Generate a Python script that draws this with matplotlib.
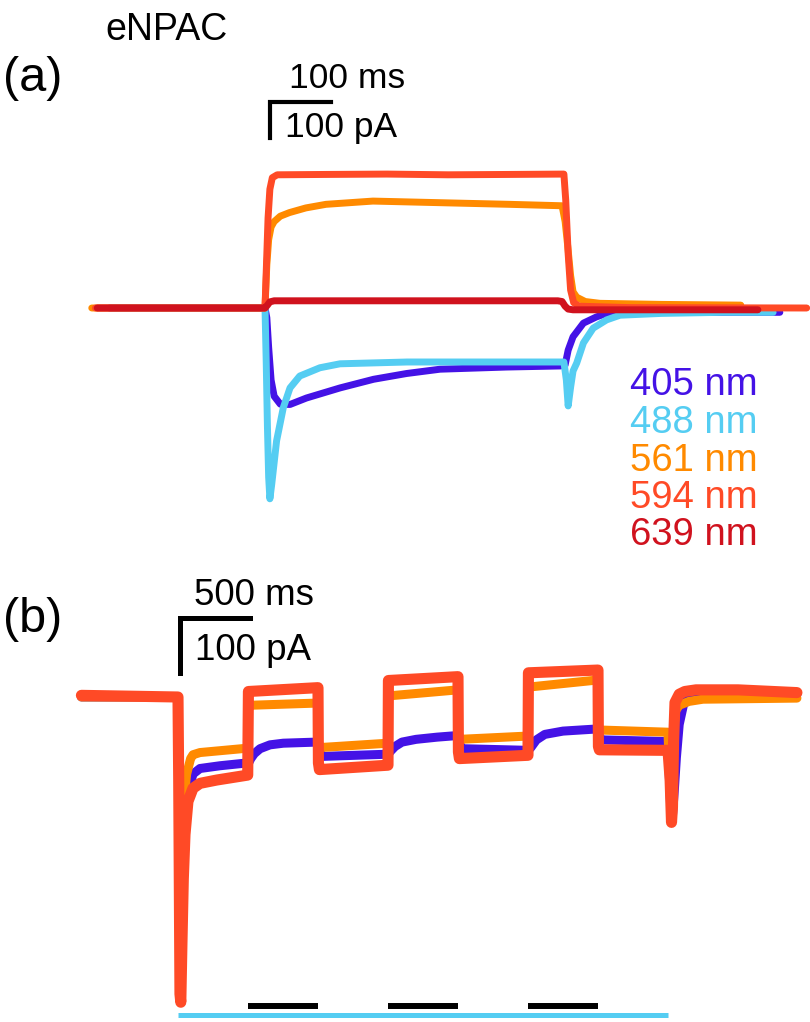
import matplotlib
matplotlib.use("Agg")
import matplotlib.pyplot as plt

plt.rcParams['font.family'] = ['Liberation Sans', 'DejaVu Sans']

# colours of the five wavelengths
wavelengths = ['405 nm', '488 nm', '561 nm', '594 nm', '639 nm']
colors = ['#4412E6', '#55CDF2', '#FF8A00', '#FF4A26', '#D0121E']

# ---- panel (a): 500 ms pulses, time in ms, current in pA ----
t_a_405 = [-255, 0, 3, 6, 10, 15, 25, 41, 68, 123, 178, 232, 287, 396, 484, 492, 497, 505, 522, 543, 560, 620, 844]
i_a_405 = [0, 0, -27, -110, -200, -245, -267, -268, -250, -222, -198, -182, -170, -164, -161, -158, -117, -80, -42, -25, -15, -12, -12]

t_a_488 = [-250, 0, 2, 4, 6, 8, 11, 19, 30, 41, 57, 90, 123, 233, 490, 494, 497, 501, 505, 511, 522, 538, 560, 582, 650, 750, 833]
i_a_488 = [0, 0, -150, -330, -470, -530, -490, -369, -277, -222, -189, -166, -155, -150, -150, -200, -272, -220, -175, -153, -97, -56, -33, -20, -15, -12, -12]

t_a_561 = [-284, 0, 3, 6, 10, 15, 25, 40, 67, 100, 177, 300, 400, 487, 492, 497, 501, 505, 511, 525, 549, 650, 780]
i_a_561 = [0, 0, 120, 190, 225, 240, 255, 265, 278, 288, 297, 292, 288, 284, 240, 160, 90, 45, 30, 18, 13, 10, 8]

t_a_594 = [-278, 0, 2, 5, 8, 12, 20, 100, 200, 300, 400, 490, 493, 497, 501, 506, 515, 600, 888]
i_a_594 = [0, 0, 100, 250, 330, 362, 370, 371, 372, 370, 371, 372, 300, 150, 50, 15, 5, 1, 0]

t_a_639 = [-275, 0, 4, 8, 15, 480, 487, 492, 497, 505, 808]
i_a_639 = [0, 0, 8, 17, 20, 20, 18, 5, -3, -5, -5]

# ---- panel (b): 488 nm background with 500 ms pulses ----
blue_light = [0, 3500]
pulses = [(500, 1000), (1500, 2000), (2500, 3000)]

t_b_405 = [-690, 0, 5, 14, 20, 28, 40, 55, 75, 107, 157, 300, 490, 500, 520, 545, 586, 657, 752, 990,
           1000, 1005, 1030, 1500, 1520, 1550, 1600, 1700, 1850, 2000, 2005, 2030, 2500, 2520, 2560, 2620,
           2750, 3000, 3005, 3030, 3500, 3512, 3524, 3532, 3545, 3560, 3580, 3610, 3650, 3750, 4421]
i_b_405 = [0, 0, -150, -530, -550, -430, -300, -220, -170, -140, -130, -125, -120, -122, -112, -103, -94, -87, -84, -82,
           -82, -95, -108, -104, -98, -90, -82, -77, -73, -70, -82, -94, -97, -92, -78, -68,
           -62, -58, -70, -78, -81, -160, -225, -215, -170, -110, -50, -15, 0, 6, 5]

t_b_561 = [-690, 0, 5, 14, 20, 27, 35, 45, 62, 90, 107, 157, 498, 503, 520, 1000, 1003, 1010, 1500, 1503, 2000,
           2003, 2010, 2500, 2503, 3000, 3003, 3010, 3500, 3512, 3522, 3530, 3540, 3555, 3580, 3650, 3750, 4421]
i_b_561 = [0, 0, -150, -520, -540, -420, -280, -180, -140, -112, -105, -101, -93, -20, -15, -11, -80, -92, -84, 2, 13,
           -65, -77, -71, 18, 31, -55, -60, -64, -150, -200, -150, -60, -25, -15, -8, -4, -2]

t_b_594 = [-690, 0, 5, 14, 20, 28, 38, 50, 71, 107, 157, 276, 498, 503, 1000, 1003, 1010, 1500, 1503, 2000, 2003,
           2010, 2500, 2503, 3000, 3003, 3010, 3500, 3515, 3525, 3532, 3540, 3550, 3580, 3620, 3700, 4000, 4421]
i_b_594 = [3, 0, -150, -540, -555, -450, -330, -250, -190, -166, -157, -151, -142, 10, 17, -120, -132, -124, 30, 37, -100,
           -112, -106, 44, 49, -90, -96, -97, -150, -228, -200, -80, -10, 5, 10, 13, 13, 8]

W, H = 810, 1022
fig = plt.figure(figsize=(W / 100, H / 100), dpi=100)


def fx(x):
    return x / W


def fy(y):
    return 1 - y / H


# panel (a) axes: 0.61 px per ms, 0.36 px per pA, zero at pixel (265, 308)
ax_a = fig.add_axes([0, 0, 1, 1])
ax_a.set_xlim(-265 / 0.61, (W - 265) / 0.61)
ax_a.set_ylim((308 - H) / 0.36, 308 / 0.36)
ax_a.axis('off')
ax_a.patch.set_alpha(0)

# panel (b) axes: 0.14 px per ms, 0.55 px per pA, zero at pixel (178, 697)
ax_b = fig.add_axes([0, 0, 1, 1])
ax_b.set_xlim(-178 / 0.14, (W - 178) / 0.14)
ax_b.set_ylim((697 - H) / 0.55, 697 / 0.55)
ax_b.axis('off')
ax_b.patch.set_alpha(0)

traces_a = [(t_a_405, i_a_405, 0), (t_a_488, i_a_488, 1), (t_a_561, i_a_561, 2),
            (t_a_594, i_a_594, 3), (t_a_639, i_a_639, 4)]
for t, i, k in traces_a:
    ax_a.plot(t, i, color=colors[k], lw=5, solid_joinstyle='round', solid_capstyle='round')

ax_b.plot(t_b_405, i_b_405, color=colors[0], lw=6.5, solid_joinstyle='round', solid_capstyle='round')
ax_b.plot(t_b_561, i_b_561, color=colors[2], lw=6.5, solid_joinstyle='round', solid_capstyle='round')
ax_b.plot(t_b_594, i_b_594, color=colors[3], lw=8, solid_joinstyle='round', solid_capstyle='round')

# stimulus bars
ax_b.hlines(-578, blue_light[0], blue_light[1], color=colors[1], lw=3.6)
for p0, p1 in pulses:
    ax_b.hlines(-562, p0, p1, color='black', lw=4.3)

# scale bars
ax_a.plot([108, 8, 8], [572, 572, 472], color='black', lw=3, solid_joinstyle='miter')
ax_b.plot([514, 14, 14], [144, 144, 44], color='black', lw=3.6, solid_joinstyle='miter')

fig.text(fx(289), fy(88), '100 ms', fontsize=25.5, va='baseline')
fig.text(fx(285), fy(137), '100 pA', fontsize=25.5, va='baseline')
fig.text(fx(194), fy(605), '500 ms', fontsize=26.5, va='baseline')
fig.text(fx(195), fy(660), '100 pA', fontsize=26.5, va='baseline')

fig.text(fx(105), fy(40), 'eNPAC', fontsize=27, va='baseline')
fig.text(fx(3), fy(91), '(a)', fontsize=35, va='baseline')
fig.text(fx(3), fy(632), '(b)', fontsize=35, va='baseline')

for k, (lab, base) in enumerate(zip(wavelengths, [395, 433, 471, 508, 545])):
    fig.text(fx(630), fy(base), lab, fontsize=27.5, color=colors[k], va='baseline')

fig.savefig('out.png', dpi=100)
